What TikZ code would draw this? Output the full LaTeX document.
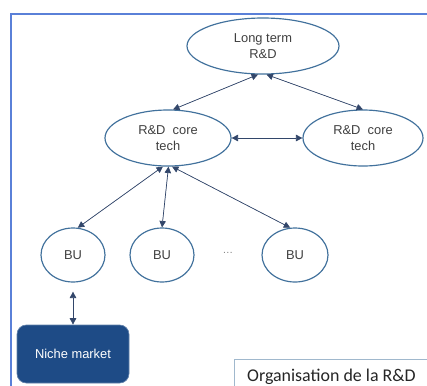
\documentclass[tikz,border=0pt]{standalone}
\usepackage{fontspec}
\setmainfont{Liberation Sans}
\newfontfamily\calibfont{Carlito}
\usetikzlibrary{arrows.meta,shapes.geometric}
\definecolor{framebl}{HTML}{5A80D8}
\definecolor{ellbl}{HTML}{41719C}
\definecolor{arrbl}{HTML}{1F3864}
\definecolor{nichebl}{HTML}{1E4B86}
\definecolor{txtgr}{HTML}{404040}

\begin{document}
\begin{tikzpicture}[x=0.03cm,y=-0.03cm,
  every node/.style={font=\fontsize{11}{13.6}\selectfont,text=txtgr},
  oval/.style={ellipse,draw=ellbl,line width=1pt,fill=white,inner sep=0pt,align=center},
  link/.style={{Triangle[length=5.5pt,width=5.5pt]}-{Triangle[length=5.5pt,width=5.5pt]},draw=arrbl!80!gray,fill=arrbl,line width=.6pt}]
\useasboundingbox (0,0) rectangle (427,385);
\clip (0,0) rectangle (427,385);
\draw[framebl,line width=1.2pt] (11,14) rectangle (440,400);
% ovals
\node[oval,minimum width=152*0.03cm,minimum height=56*0.03cm] (lt) at (263,46) {Long term\\R\&D};
\node[oval,minimum width=126*0.03cm,minimum height=56*0.03cm] (core1) at (168,138) {R\&D\ \ core\\tech};
\node[oval,minimum width=120*0.03cm,minimum height=56*0.03cm] (core2) at (363,138) {R\&D\ \ core\\tech};
\node[oval,minimum width=64*0.03cm,minimum height=54*0.03cm] (bu1) at (73,255) {BU};
\node[oval,minimum width=64*0.03cm,minimum height=54*0.03cm] (bu2) at (162,255) {BU};
\node[oval,minimum width=66*0.03cm,minimum height=54*0.03cm] (bu3) at (295,255) {BU};
\node[text=gray,font=\fontsize{9}{10}\selectfont] (dots) at (228,253) {\dots};
\node[rounded corners=8pt,fill=nichebl,draw=nichebl!70!white,line width=.6pt,text=white,minimum width=112*0.03cm,minimum height=58*0.03cm] (niche) at (73,354) {Niche market};
% links
\draw[link] (core1.80) -- (lt.260);
\draw[link] (core2.90) -- (lt.277);
\draw[link] (core1.east) -- (core2.west);
\draw[link] (core1.260) -- (bu1.80);
\draw[link] (core1.271) -- (bu2.north);
\draw[link] (core1.278) -- (bu3.100);
\draw[link,shorten <=9*0.03cm] (bu1.south) -- (niche.north);
% caption box
\draw[draw=ellbl!50!white,fill=white,line width=.6pt] (234,359) rectangle (440,400);
\node[anchor=base west,text=black!85,font=\calibfont\fontsize{15.3}{18}\selectfont] (cap) at (243,381) {Organisation de la R\&D};
\end{tikzpicture}
\end{document}
